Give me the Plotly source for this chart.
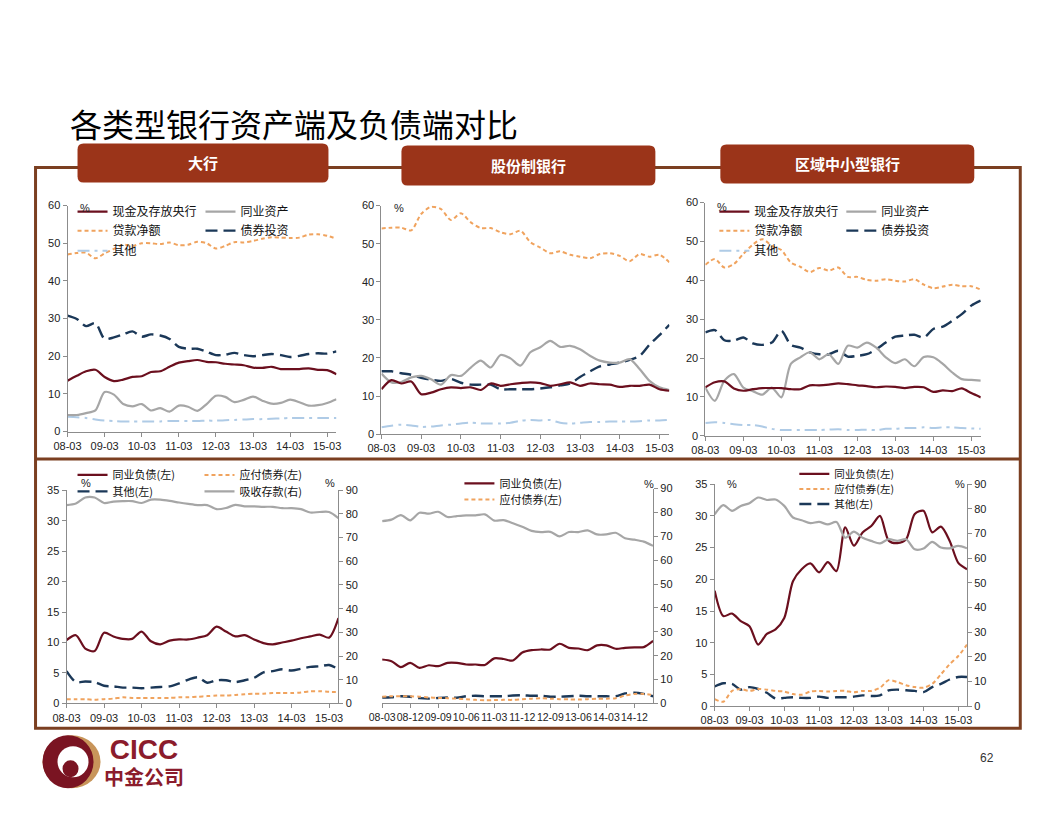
import plotly.graph_objects as go

# The page body keeps the browser's default 8px margin, so the figure is
# 16px smaller than the window.  Reference pixel positions are mapped
# through a small calibration (measured from earlier renders) so that the
# photographed page lines up with the reference.
PAD = 8
W, H = 1056 - 2 * PAD, 816 - 2 * PAD
AXS, BXS = 0.982, 13.6   # horizontal: shown = AXS * page + BXS
AYS, BYS = 0.984, 5.7    # vertical


def X(px):
    return ((px - BXS) / AXS - PAD) / W


def Y(py):
    return 1 - ((py - BYS) / AYS - PAD) / H


# ---------------- data ----------------
quarters = ["08-03", "08-06", "08-09", "08-12", "09-03", "09-06", "09-09", "09-12",
            "10-03", "10-06", "10-09", "10-12", "11-03", "11-06", "11-09", "11-12",
            "12-03", "12-06", "12-09", "12-12", "13-03", "13-06", "13-09", "13-12",
            "14-03", "14-06", "14-09", "14-12", "15-03", "15-06"]
year_ticks = ["08-03", "09-03", "10-03", "11-03", "12-03", "13-03", "14-03", "15-03"]
js_liab_ticks = ["08-03", "08-12", "09-09", "10-06", "11-03", "11-12", "12-09", "13-06", "14-03", "14-12"]

asset_names = ["现金及存放央行", "同业资产", "贷款净额", "债券投资", "其他"]
liab_names = ["同业负债(左)", "应付债券(左)", "其他(左)", "吸收存款(右)"]
panel_titles = ["大行", "股份制银行", "区域中小型银行"]
main_title = "各类型银行资产端及负债端对比"

# 大行 资产端 (%)
big_cash = [13.5, 14.8, 16.0, 16.4, 14.5, 13.4, 13.8, 14.5, 14.7, 15.8, 16.0, 17.2, 18.3, 18.7, 19.0,
            18.5, 18.4, 18.0, 17.8, 17.6, 17.0, 16.9, 17.2, 16.6, 16.6, 16.6, 16.8, 16.4, 16.3, 15.2]
big_interbank = [4.4, 4.4, 4.9, 5.6, 10.5, 9.8, 7.3, 6.7, 7.3, 5.6, 6.2, 5.3, 6.9, 6.6, 5.5,
                 7.3, 9.5, 9.2, 7.8, 8.4, 9.3, 8.2, 7.4, 7.6, 8.5, 7.8, 6.9, 7.0, 7.6, 8.6]
big_loans = [47.0, 47.4, 47.5, 46.0, 47.3, 48.5, 49.6, 49.3, 50.0, 50.0, 49.8, 50.2, 49.5, 49.6, 50.4,
             50.0, 48.6, 49.3, 50.3, 50.2, 50.6, 51.2, 51.6, 51.5, 51.4, 51.5, 52.3, 52.4, 52.0, 51.2]
big_bonds = [30.8, 29.9, 28.0, 28.8, 24.6, 25.0, 25.8, 26.6, 25.2, 25.8, 25.5, 24.6, 22.5, 22.0, 22.0,
             21.2, 20.3, 20.4, 20.9, 20.3, 20.0, 20.3, 20.6, 20.3, 19.8, 20.1, 20.6, 20.8, 20.7, 21.3]
big_other = [3.9, 3.8, 3.6, 3.2, 2.9, 2.8, 2.7, 2.7, 2.7, 2.7, 2.7, 2.8, 2.8, 2.8, 2.8,
             2.9, 2.9, 3.0, 3.1, 3.2, 3.3, 3.3, 3.4, 3.5, 3.6, 3.6, 3.6, 3.6, 3.6, 3.6]

# 股份制银行 资产端 (%)
js_cash = [11.8, 14.2, 13.3, 13.8, 10.5, 10.9, 11.8, 12.3, 12.1, 12.3, 11.6, 13.3, 12.7, 13.1, 13.4,
           13.6, 13.4, 12.7, 13.1, 13.6, 12.7, 13.3, 13.1, 13.0, 12.4, 12.7, 12.7, 13.0, 11.8, 11.4]
js_interbank = [15.9, 13.6, 13.7, 14.9, 15.3, 14.4, 13.0, 15.5, 15.3, 17.5, 19.3, 17.5, 20.8, 19.9, 18.0,
                21.5, 22.8, 24.5, 22.9, 23.2, 22.3, 20.6, 19.3, 18.8, 18.8, 19.7, 17.1, 14.0, 12.3, 11.6]
js_loans = [54.0, 54.2, 54.2, 53.5, 57.8, 59.7, 59.1, 56.2, 58.0, 55.6, 54.1, 54.1, 53.0, 52.5, 53.4,
            50.4, 49.0, 47.5, 48.0, 47.1, 46.6, 46.2, 47.3, 47.5, 46.8, 45.4, 47.3, 46.6, 47.1, 45.1]
js_bonds = [16.5, 16.5, 16.0, 15.6, 14.8, 14.3, 14.0, 14.5, 13.5, 13.0, 13.0, 13.0, 11.8, 11.8, 11.8,
            11.8, 12.0, 12.3, 12.8, 13.3, 15.0, 16.5, 17.8, 18.3, 18.8, 19.5, 20.5, 23.5, 26.0, 28.7]
js_other = [1.8, 2.2, 2.5, 2.3, 1.9, 2.0, 2.3, 2.5, 2.8, 3.0, 2.8, 2.8, 2.8, 3.0, 3.5,
            3.7, 3.6, 3.7, 3.0, 2.8, 3.0, 3.2, 3.2, 3.3, 3.3, 3.3, 3.4, 3.6, 3.6, 3.8]

# 区域中小型银行 资产端 (%)
rc_cash = [12.5, 13.8, 14.0, 12.2, 11.6, 12.0, 12.3, 12.3, 12.3, 12.0, 12.0, 13.0, 13.0, 13.2, 13.5,
           13.3, 13.0, 12.8, 12.5, 12.7, 12.6, 12.3, 12.6, 12.5, 11.3, 11.7, 11.5, 12.2, 11.0, 9.9]
rc_interbank = [12.4, 9.0, 14.2, 15.9, 12.4, 11.5, 10.6, 12.4, 9.9, 18.5, 20.2, 21.5, 19.7, 21.0, 18.5,
                23.2, 22.7, 24.0, 22.7, 20.2, 18.7, 19.7, 17.9, 20.3, 20.2, 18.5, 16.3, 14.6, 14.4, 14.2]
rc_loans = [44.0, 45.5, 43.3, 44.2, 46.8, 49.2, 50.6, 48.9, 47.8, 44.6, 43.5, 42.1, 43.2, 42.5, 43.3,
            40.9, 40.9, 40.1, 39.9, 40.3, 39.9, 39.7, 40.3, 38.9, 38.0, 38.4, 38.9, 38.5, 38.5, 37.6]
rc_bonds = [26.6, 27.2, 24.6, 24.5, 25.3, 23.8, 23.4, 24.0, 27.0, 23.4, 22.7, 21.5, 21.0, 21.0, 21.9,
            20.4, 20.6, 21.0, 22.3, 24.0, 25.5, 25.8, 26.0, 25.3, 27.5, 28.1, 29.6, 31.3, 33.5, 34.8]
rc_other = [3.3, 3.5, 3.3, 3.0, 2.8, 2.8, 2.4, 1.8, 1.5, 1.5, 1.5, 1.5, 1.5, 1.6, 1.7,
            1.5, 1.5, 1.6, 1.5, 1.8, 1.8, 2.0, 2.0, 2.2, 2.0, 2.2, 2.2, 2.0, 1.9, 1.8]

# 大行 负债端 (%)
big_ib_liab = [10.4, 11.2, 9.0, 8.6, 11.6, 11.0, 10.6, 10.6, 11.8, 10.2, 9.7, 10.3, 10.5, 10.5, 10.8,
               11.2, 12.6, 11.8, 11.0, 11.2, 10.5, 9.9, 9.7, 10.0, 10.3, 10.7, 11.0, 11.3, 10.8, 14.0]
big_bonds_pay = [0.7, 0.7, 0.7, 0.6, 0.7, 0.8, 1.0, 0.9, 0.9, 0.9, 0.9, 0.9, 1.0, 1.0, 1.1,
                 1.2, 1.3, 1.3, 1.4, 1.5, 1.6, 1.6, 1.7, 1.7, 1.7, 1.8, 2.0, 2.0, 1.9, 1.9]
big_other_liab = [5.3, 3.5, 3.6, 3.5, 2.9, 2.8, 2.6, 2.6, 2.5, 2.6, 2.7, 2.8, 3.3, 3.9, 4.3,
                  3.4, 3.8, 3.8, 3.5, 3.8, 4.2, 5.1, 5.3, 5.6, 5.4, 5.7, 6.0, 6.1, 6.3, 5.6]
big_deposits = [83.7, 84.4, 86.9, 86.9, 84.6, 85.2, 85.4, 85.4, 84.6, 86.0, 86.0, 85.5, 84.8, 84.2, 83.7,
                83.7, 82.0, 82.5, 83.8, 83.2, 83.2, 83.0, 83.0, 82.4, 82.4, 82.0, 80.6, 80.8, 80.8, 78.2]

# 股份制银行 负债端 (%)
js_ib_liab = [18.4, 17.7, 15.2, 17.0, 14.9, 16.0, 15.6, 17.0, 17.0, 16.3, 16.3, 16.1, 18.9, 18.6, 18.0,
              21.3, 22.3, 22.6, 22.6, 25.0, 23.3, 23.0, 22.3, 24.3, 24.3, 22.9, 23.3, 23.5, 23.6, 26.2]
js_bonds_pay = [2.8, 3.0, 3.0, 3.0, 2.8, 2.5, 2.3, 2.2, 2.0, 1.8, 1.5, 1.3, 1.4, 1.5, 1.5,
                1.8, 2.0, 2.2, 2.0, 1.8, 1.7, 1.6, 1.8, 2.0, 2.0, 2.2, 3.3, 4.0, 4.0, 3.5]
js_other_liab = [2.5, 2.6, 3.0, 2.8, 2.2, 2.0, 2.3, 2.5, 2.4, 3.0, 3.2, 3.0, 3.0, 3.0, 3.3,
                 3.4, 3.2, 3.2, 2.8, 2.8, 3.0, 3.2, 3.0, 3.0, 3.0, 3.0, 4.2, 4.5, 4.0, 3.0]
js_deposits = [76.4, 77.0, 78.9, 76.7, 79.9, 79.5, 80.3, 78.1, 78.5, 78.8, 78.8, 79.2, 76.6, 76.8, 75.5,
               74.0, 72.3, 71.8, 71.9, 70.0, 71.8, 71.8, 72.5, 70.8, 70.8, 71.5, 69.2, 68.6, 67.8, 66.0]

# 区域中小型银行 负债端 (%)
rc_ib_liab = [18.2, 14.2, 14.6, 13.4, 12.6, 9.7, 11.4, 12.1, 13.9, 19.7, 21.6, 22.5, 21.1, 22.7, 21.3,
              28.2, 25.3, 27.4, 28.4, 30.0, 26.1, 25.7, 26.3, 30.3, 30.8, 27.4, 28.3, 26.1, 22.6, 21.6]
rc_bonds_pay = [1.1, 0.7, 2.4, 2.7, 2.4, 2.7, 2.6, 2.4, 2.3, 1.9, 1.8, 2.3, 2.4, 2.3, 2.4,
                2.4, 2.2, 2.4, 2.4, 2.9, 4.1, 3.8, 3.3, 3.0, 2.9, 3.5, 5.0, 6.6, 7.9, 9.7]
rc_other_liab = [3.1, 3.6, 3.5, 2.6, 3.0, 2.7, 2.1, 1.2, 1.3, 1.4, 1.3, 1.3, 1.5, 1.3, 1.4,
                 1.4, 1.5, 1.7, 1.6, 1.7, 2.5, 2.6, 2.5, 2.4, 2.2, 3.0, 3.5, 4.2, 4.6, 4.6]
rc_deposits = [77.8, 81.5, 79.2, 81.2, 82.3, 84.6, 83.6, 83.8, 81.2, 76.5, 75.4, 74.2, 74.7, 73.7, 74.7,
               68.3, 70.8, 68.3, 67.0, 66.0, 67.7, 67.0, 67.7, 63.6, 63.9, 66.6, 64.3, 64.0, 65.0, 64.0]

# ---------------- styles ----------------
MAROON = "#6B0F1E"
GRAY = "#A6A6A6"
ORANGE = "#F0A35E"
NAVY = "#1B3858"
LBLUE = "#AFCBE6"
BROWN = "#7B3F21"
BOX = "#9B3419"

S_SOLID_M = dict(color=MAROON, width=2.2)
S_SOLID_G = dict(color=GRAY, width=2.2)
S_SHORT_O = dict(color=ORANGE, width=2, dash="4px,3px")
S_LONG_N = dict(color=NAVY, width=2.4, dash="12px,6px")
S_DDOT_B = dict(color=LBLUE, width=2, dash="12px,5px,3px,5px")

CJK = "Noto Sans CJK SC"
LAT = "Liberation Sans, Arial"

fig = go.Figure()
legends = {}


def make_legend(text_start_px, row_py, size=12):
    n = len(legends) + 1
    key = "legend" if n == 1 else f"legend{n}"
    legends[key] = dict(
        x=X(text_start_px - 41), y=Y(row_py), xanchor="left", yanchor="middle",
        bgcolor="rgba(0,0,0,0)", borderwidth=0,
        font=dict(family=CJK, size=size, color="#111"),
        itemclick=False, itemdoubleclick=False,
    )
    return key


def add(xa, ya, ys, style, name, leg=None):
    fig.add_trace(go.Scatter(
        x=quarters, y=ys, mode="lines", name=name,
        line=dict(shape="spline", smoothing=0.8, **style),
        xaxis=xa, yaxis=ya, showlegend=leg is not None,
        legend=leg if leg is not None else "legend",
        hoverinfo="skip",
    ))


# top-left 大行
add("x", "y", big_loans, S_SHORT_O, asset_names[2], make_legend(113, 230))
add("x", "y", big_bonds, S_LONG_N, asset_names[3], make_legend(241, 230))
add("x", "y", big_other, S_DDOT_B, asset_names[4], make_legend(113, 250))
add("x", "y", big_interbank, S_SOLID_G, asset_names[1], make_legend(241, 211))
add("x", "y", big_cash, S_SOLID_M, asset_names[0], make_legend(113, 211))

# top-middle 股份制银行
add("x2", "y2", js_loans, S_SHORT_O, asset_names[2])
add("x2", "y2", js_bonds, S_LONG_N, asset_names[3])
add("x2", "y2", js_other, S_DDOT_B, asset_names[4])
add("x2", "y2", js_interbank, S_SOLID_G, asset_names[1])
add("x2", "y2", js_cash, S_SOLID_M, asset_names[0])

# top-right 区域中小型银行
add("x3", "y3", rc_loans, S_SHORT_O, asset_names[2], make_legend(755, 230))
add("x3", "y3", rc_bonds, S_LONG_N, asset_names[3], make_legend(882, 230))
add("x3", "y3", rc_other, S_DDOT_B, asset_names[4], make_legend(755, 250))
add("x3", "y3", rc_interbank, S_SOLID_G, asset_names[1], make_legend(882, 211))
add("x3", "y3", rc_cash, S_SOLID_M, asset_names[0], make_legend(755, 211))

# bottom-left 大行 负债
add("x4", "y5", big_deposits, S_SOLID_G, liab_names[3], make_legend(240, 490.5, 11))
add("x4", "y4", big_bonds_pay, S_SHORT_O, liab_names[1], make_legend(240, 474, 11))
add("x4", "y4", big_other_liab, S_LONG_N, liab_names[2], make_legend(113, 490.5, 11))
add("x4", "y4", big_ib_liab, S_SOLID_M, liab_names[0], make_legend(113, 474, 11))

# bottom-middle 股份制 负债
add("x5", "y6", js_deposits, S_SOLID_G, liab_names[3])
add("x5", "y6", js_other_liab, S_LONG_N, liab_names[2])
add("x5", "y6", js_bonds_pay, S_SHORT_O, liab_names[1], make_legend(500, 498.5, 11))
add("x5", "y6", js_ib_liab, S_SOLID_M, liab_names[0], make_legend(500, 482.5, 11))

# bottom-right 区域中小型 负债
add("x6", "y8", rc_deposits, S_SOLID_G, liab_names[3])
add("x6", "y7", rc_other_liab, S_LONG_N, liab_names[2], make_legend(835, 503, 10.5))
add("x6", "y7", rc_bonds_pay, S_SHORT_O, liab_names[1], make_legend(835, 488, 10.5))
add("x6", "y7", rc_ib_liab, S_SOLID_M, liab_names[0], make_legend(835, 473, 10.5))

# ---------------- axes ----------------
AX = dict(showline=True, linecolor="#8C8C8C", linewidth=1, ticks="outside", ticklen=4,
          tickcolor="#8C8C8C", showgrid=False, zeroline=False, fixedrange=True,
          tickfont=dict(family=LAT, size=11, color="#222"))


def xax(x0, x1, anchor, ticks, size=11):
    d = dict(AX)
    d.update(domain=[X(x0), X(x1)], anchor=anchor, type="category", range=[0, 29],
             tickmode="array", tickvals=ticks, ticktext=ticks, tickangle=0,
             tickfont=dict(family=LAT, size=size, color="#222"))
    return d


def yax(y_bottom, y_top, anchor, rng, dtick, side="left", overlaying=None):
    d = dict(AX)
    d.update(anchor=anchor, range=rng, dtick=dtick, side=side)
    if overlaying:
        d.update(overlaying=overlaying)
    else:
        d.update(domain=[Y(y_bottom), Y(y_top)])
    return d


layout_axes = dict(
    xaxis=xax(67, 336, "y", year_ticks),
    yaxis=yax(430.7, 205, "x", [0, 60], 10),
    xaxis2=xax(381, 669, "y2", year_ticks),
    yaxis2=yax(433.3, 205, "x2", [0, 60], 10),
    xaxis3=xax(705, 980.5, "y3", year_ticks),
    yaxis3=yax(435, 202, "x3", [0, 60], 10),
    xaxis4=xax(66, 338, "y4", year_ticks),
    yaxis4=yax(702.3, 489.3, "x4", [0, 35], 5),
    yaxis5=yax(None, None, "x4", [0, 90], 10, side="right", overlaying="y4"),
    xaxis5=xax(381.7, 652.7, "y6", js_liab_ticks, size=10.5),
    yaxis6=yax(702.3, 487.7, "x5", [0, 90], 10, side="right"),
    xaxis6=xax(714.3, 966.7, "y7", year_ticks),
    yaxis7=yax(705, 483.3, "x6", [0, 35], 5),
    yaxis8=yax(None, None, "x6", [0, 90], 10, side="right", overlaying="y7"),
)

# ---------------- shapes ----------------


def rrect(x0, y0, x1, y1, r):
    return (f"M {X(x0 + r)},{Y(y0)} L {X(x1 - r)},{Y(y0)} Q {X(x1)},{Y(y0)} {X(x1)},{Y(y0 + r)} "
            f"L {X(x1)},{Y(y1 - r)} Q {X(x1)},{Y(y1)} {X(x1 - r)},{Y(y1)} "
            f"L {X(x0 + r)},{Y(y1)} Q {X(x0)},{Y(y1)} {X(x0)},{Y(y1 - r)} "
            f"L {X(x0)},{Y(y0 + r)} Q {X(x0)},{Y(y0)} {X(x0 + r)},{Y(y0)} Z")


shapes = [
    dict(type="rect", xref="paper", yref="paper", x0=X(35), x1=X(1020), y0=Y(727), y1=Y(167),
         line=dict(color=BROWN, width=3), fillcolor="rgba(0,0,0,0)", layer="below"),
    dict(type="line", xref="paper", yref="paper", x0=X(35), x1=X(1020), y0=Y(458), y1=Y(458),
         line=dict(color=BROWN, width=3), layer="below"),
]
boxes = [(77, 143, 328, 182), (401, 145, 655, 185), (720, 144, 974, 183)]
for (bx0, by0, bx1, by1) in boxes:
    shapes.append(dict(type="path", xref="paper", yref="paper", path=rrect(bx0, by0, bx1, by1, 6),
                       fillcolor=BOX, line=dict(width=0), layer="above"))

# logo
shapes += [
    dict(type="circle", xref="paper", yref="paper", x0=X(42), x1=X(100), y0=Y(787), y1=Y(734),
         fillcolor="#C8955A", line=dict(width=0)),
    dict(type="circle", xref="paper", yref="paper", x0=X(42), x1=X(93), y0=Y(787), y1=Y(734),
         fillcolor="#7A1422", line=dict(width=0)),
    dict(type="circle", xref="paper", yref="paper", x0=X(57), x1=X(88), y0=Y(776), y1=Y(745),
         fillcolor="white", line=dict(width=0)),
    dict(type="circle", xref="paper", yref="paper", x0=X(62), x1=X(78), y0=Y(776), y1=Y(759),
         fillcolor="#7A1422", line=dict(width=0)),
]

# ---------------- annotations ----------------


def txt(px, py, text, size=12, color="#222", family=LAT, xanchor="left"):
    return dict(x=X(px), y=Y(py), xref="paper", yref="paper", text=text, showarrow=False,
                xanchor=xanchor, yanchor="middle", font=dict(size=size, color=color, family=family))


annotations = [
    txt(67, 122, main_title, size=32, color="#000", family=CJK),
    txt((77 + 328) / 2, 162, f"<b>{panel_titles[0]}</b>", size=15, color="white", family=CJK, xanchor="center"),
    txt((401 + 655) / 2, 165, f"<b>{panel_titles[1]}</b>", size=15, color="white", family=CJK, xanchor="center"),
    txt((720 + 974) / 2, 163, f"<b>{panel_titles[2]}</b>", size=15, color="white", family=CJK, xanchor="center"),
    txt(77, 207, "%", size=11),
    txt(392, 207, "%", size=11),
    txt(715, 206, "%", size=11),
    txt(78, 482, "%", size=11),
    txt(323, 482, "%", size=11),
    txt(642, 483, "%", size=11),
    txt(725, 483, "%", size=11),
    txt(953, 483, "%", size=11),
    txt(101, 760, "<b><span style='font-size:28px'>CICC</span><br>中金公司</b>", size=20,
        color="#8B1C2C", family="Liberation Sans, Noto Sans CJK SC"),
    txt(987, 757, "62", size=12, color="#333", family=LAT, xanchor="center"),
]

fig.update_layout(
    width=W, height=H, autosize=False,
    margin=dict(l=0, r=0, t=0, b=0),
    paper_bgcolor="white", plot_bgcolor="rgba(0,0,0,0)",
    shapes=shapes, annotations=annotations,
    hovermode=False,
    **layout_axes,
    **legends,
)

fig.write_html("out.html", config={"displayModeBar": False})
